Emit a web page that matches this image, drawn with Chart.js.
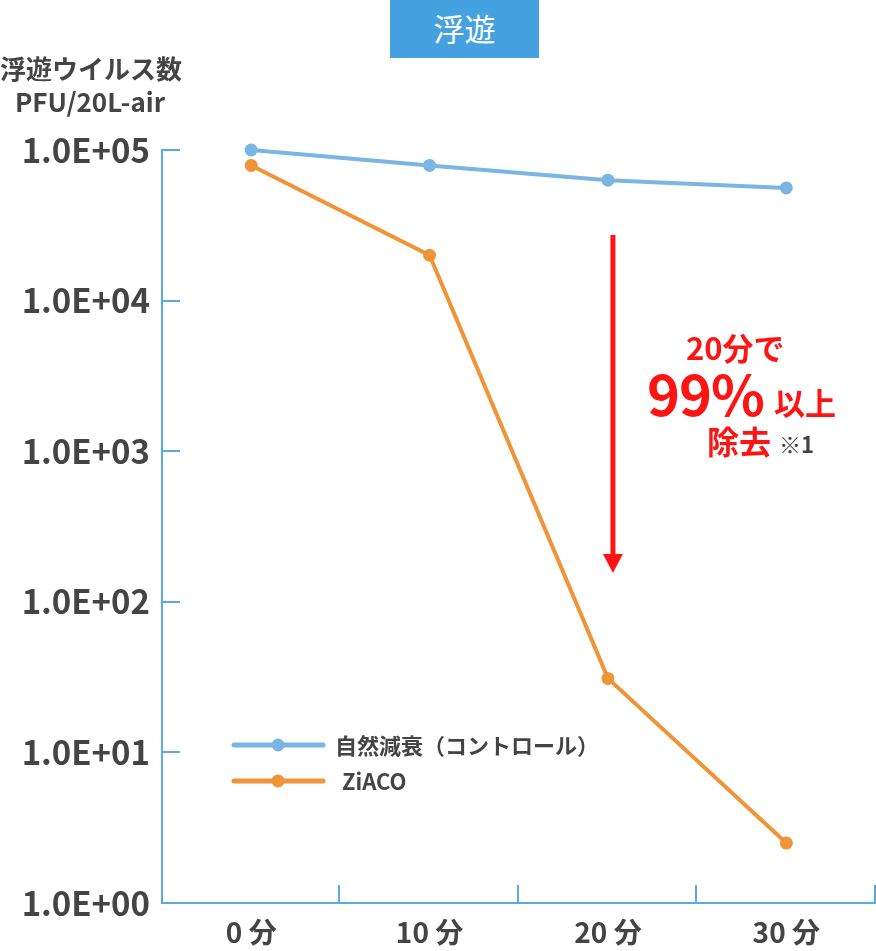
<!DOCTYPE html>
<html lang="ja">
<head>
  <meta charset="UTF-8" />
  <title>浮遊ウイルス数</title>
  <script src="https://cdn.jsdelivr.net/npm/chart.js"></script>
  <style>
    body { margin: 0; background: #fff; font-family: "Noto Sans CJK JP", "Noto Sans", sans-serif; overflow: hidden; }
    #wrap { position: relative; width: 876px; height: 951px; overflow: hidden; }
    .t { position: absolute; white-space: nowrap; line-height: 1; font-weight: bold; }
    #badge { position: absolute; left: 390px; top: 0; width: 149px; height: 58px; background: #45a1df;
             color: #fff; font-size: 31px; font-weight: normal; text-align: center; line-height: 56px; }
  </style>
</head>
<body>
  <div id="wrap">
    <canvas id="grafico" width="882" height="951"></canvas>
    <div id="badge">浮遊</div>
    <!-- titulo do eixo y -->
    <div class="t" style="left:0;top:55px;width:180px;text-align:center;font-size:26px;color:#444;">浮遊ウイルス数</div>
    <div class="t" style="left:0;top:88px;width:180px;text-align:center;font-size:26px;color:#444;">PFU/20L-air</div>
    <!-- anotacao vermelha -->
    <div class="t" style="left:686px;top:331px;font-size:31px;color:#ff1414;">20分で</div>
    <div class="t" style="left:647px;top:364px;font-size:56px;color:#ff1414;letter-spacing:-1px;">99%</div>
    <div class="t" style="left:774px;top:386px;font-size:31px;color:#ff1414;">以上</div>
    <div class="t" style="left:707px;top:424px;font-size:32px;color:#ff1414;">除去</div>
    <div class="t" style="left:779px;top:432px;font-size:22px;color:#444;">※1</div>
  </div>

  <script>
    // dados do grafico
    const categorias = ['0 分', '10 分', '20 分', '30 分'];
    const controle = [100000, 79000, 63000, 56000];   // 自然減衰（コントロール）
    const ziaco = [79000, 20000, 31, 2.5];            // ZiACO
    const ticksY = [1, 10, 100, 1000, 10000, 100000];
    const rotulosY = ['1.0E+00', '1.0E+01', '1.0E+02', '1.0E+03', '1.0E+04', '1.0E+05'];

    const corEixo = '#5aaae2';
    const corTexto = '#444444';

    // desenha ticks para dentro, seta e legenda
    const extras = {
      id: 'extras',
      afterDraw(chart) {
        const ctx = chart.ctx;
        const a = chart.chartArea;
        const x = chart.scales.x;
        const y = chart.scales.y;
        ctx.save();
        ctx.strokeStyle = corEixo;
        ctx.lineWidth = 2;
        ticksY.slice(1).forEach(v => {
          const py = Math.round(y.getPixelForValue(v));
          ctx.beginPath(); ctx.moveTo(a.left, py); ctx.lineTo(a.left + 18, py); ctx.stroke();
        });
        const meio = (x.getPixelForValue(1) - x.getPixelForValue(0)) / 2;
        categorias.forEach((c, i) => {
          const px = Math.round(x.getPixelForValue(i) + meio) - 1;
          ctx.beginPath(); ctx.moveTo(px, a.bottom); ctx.lineTo(px, a.bottom - 18); ctx.stroke();
        });

        // seta vermelha
        const sx = x.getPixelForValue(2) + 5;
        ctx.strokeStyle = '#ff1414';
        ctx.fillStyle = '#ff1414';
        ctx.lineWidth = 5;
        ctx.beginPath(); ctx.moveTo(sx, 235); ctx.lineTo(sx, 556); ctx.stroke();
        ctx.beginPath(); ctx.moveTo(sx - 10, 554); ctx.lineTo(sx + 10, 554); ctx.lineTo(sx, 573); ctx.closePath(); ctx.fill();

        // legenda
        chart.data.datasets.forEach((ds, i) => {
          const ly = 745 + i * 36;
          ctx.strokeStyle = ds.borderColor;
          ctx.fillStyle = ds.borderColor;
          ctx.lineWidth = 5;
          ctx.lineCap = 'round';
          ctx.beginPath(); ctx.moveTo(234, ly); ctx.lineTo(323, ly); ctx.stroke();
          ctx.beginPath(); ctx.arc(278, ly, 6.5, 0, Math.PI * 2); ctx.fill();
          ctx.fillStyle = corTexto;
          ctx.font = 'bold 22px "Noto Sans CJK JP"';
          ctx.textBaseline = 'middle';
          ctx.fillText(ds.label, i === 0 ? 335 : 342, ly + 1);
        });
        ctx.restore();
      }
    };

    new Chart(document.getElementById('grafico'), {
      type: 'line',
      data: {
        labels: categorias,
        datasets: [
          { label: '自然減衰（コントロール）', data: controle, borderColor: '#7ab5e3', backgroundColor: '#7ab5e3',
            borderWidth: 4, pointRadius: 6.5, pointBorderWidth: 0, tension: 0, clip: false },
          { label: 'ZiACO', data: ziaco, borderColor: '#ef9437', backgroundColor: '#ef9437',
            borderWidth: 4, pointRadius: 6.5, pointBorderWidth: 0, tension: 0, clip: false }
        ]
      },
      options: {
        responsive: false,
        animation: false,
        events: [],
        layout: { padding: { top: 150, right: 0, left: 0, bottom: 0 } },
        plugins: { legend: { display: false }, tooltip: { enabled: false } },
        scales: {
          x: {
            offset: true,
            grid: { display: false, offset: true, drawTicks: false },
            border: { display: true, color: corEixo, width: 2 },
            ticks: { color: corTexto, padding: 13, font: { family: 'Noto Sans CJK JP', size: 28, weight: 'bold' } },
            afterFit: s => { s.height = 48; s.paddingLeft = 0; s.paddingRight = 0; }
          },
          y: {
            type: 'logarithmic',
            min: 1,
            max: 100000,
            grid: { display: false, drawTicks: false },
            border: { display: true, color: corEixo, width: 2 },
            afterBuildTicks: s => { s.ticks = ticksY.map(v => ({ value: v })); },
            ticks: {
              color: corTexto,
              padding: 12,
              font: { family: 'Noto Sans CJK JP', size: 33, weight: 'bold' },
              callback: v => rotulosY[ticksY.indexOf(v)]
            },
            afterFit: s => { s.width = 162; s.paddingTop = 0; s.paddingBottom = 0; }
          }
        }
      },
      plugins: [extras]
    });
  </script>
</body>
</html>
